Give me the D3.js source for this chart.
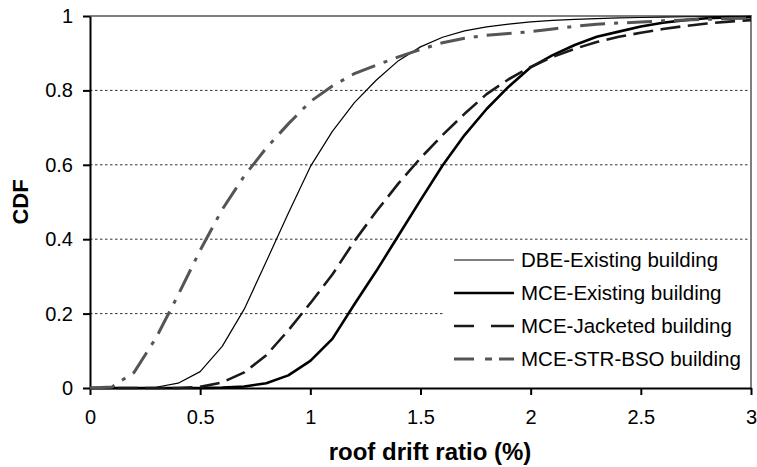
<!DOCTYPE html>
<html>
<head>
<meta charset="utf-8">
<script src="https://cdn.jsdelivr.net/npm/d3@7"></script>
<style>
    body { margin: 0; background: #fff; }
    svg { display: block; font-family: 'Liberation Sans', Arial, sans-serif; }
</style>
</head>
<body>
<div id="chart"></div>
<script>
// roof drift ratio (%) at which each CDF was sampled
const driftRatio = [0, 0.1, 0.2, 0.3, 0.4, 0.5, 0.6, 0.7, 0.8, 0.9, 1.0,
    1.1, 1.2, 1.3, 1.4, 1.5, 1.6, 1.7, 1.8, 1.9, 2.0,
    2.1, 2.2, 2.3, 2.4, 2.5, 2.6, 2.7, 2.8, 2.9, 3.0];

const dbeExisting = [0, 0, 0, 0.002, 0.013, 0.044, 0.112, 0.212, 0.34, 0.47, 0.595,
    0.69, 0.767, 0.828, 0.88, 0.917, 0.943, 0.96, 0.971, 0.978, 0.984,
    0.988, 0.991, 0.993, 0.995, 0.996, 0.997, 0.998, 0.998, 0.999, 0.999];

const mceExisting = [0, 0, 0, 0, 0, 0, 0.001, 0.004, 0.013, 0.034, 0.073,
    0.132, 0.225, 0.315, 0.41, 0.505, 0.598, 0.68, 0.75, 0.81, 0.862,
    0.895, 0.922, 0.944, 0.958, 0.972, 0.982, 0.989, 0.994, 0.996, 0.997];

const mceJacketed = [0, 0, 0, 0, 0, 0.003, 0.015, 0.042, 0.088, 0.155, 0.228,
    0.305, 0.395, 0.475, 0.55, 0.618, 0.68, 0.737, 0.79, 0.83, 0.863,
    0.89, 0.912, 0.93, 0.944, 0.955, 0.965, 0.973, 0.98, 0.985, 0.989];

const mceStrBso = [0, 0.003, 0.042, 0.135, 0.25, 0.37, 0.48, 0.57, 0.645, 0.71, 0.77,
    0.812, 0.845, 0.868, 0.89, 0.91, 0.928, 0.94, 0.948, 0.953, 0.958,
    0.965, 0.972, 0.978, 0.981, 0.984, 0.987, 0.989, 0.991, 0.993, 0.994];

const seriesNames = ['DBE-Existing building', 'MCE-Existing building', 'MCE-Jacketed building', 'MCE-STR-BSO building'];
const xTicks = [0, 0.5, 1, 1.5, 2, 2.5, 3];
const yTicks = [0, 0.2, 0.4, 0.6, 0.8, 1];

// line styles, same order as seriesNames
const styles = [
    { color: '#000', width: 1.2, dash: null, legendDash: null },
    { color: '#000', width: 2.6, dash: null, legendDash: null },
    { color: '#1a1a1a', width: 2.6, dash: '20,7.5', legendDash: '20,17,23' },
    { color: '#555', width: 3, dash: '25,9,4,9', legendDash: '20,11,7,7,15' }
];

function renderChart (el) {
    const width = 757;
    const height = 467;
    const margins = { top: 16, right: 6, bottom: 79, left: 90 };
    const innerW = width - margins.left - margins.right;
    const innerH = height - margins.top - margins.bottom;

    const svg = d3.select(el).append('svg')
        .attr('width', width)
        .attr('height', height);

    const x = d3.scaleLinear().domain([0, 3]).range([0, innerW]);
    const y = d3.scaleLinear().domain([0, 1]).range([innerH, 0]);

    const g = svg.append('g')
        .attr('transform', `translate(${margins.left},${margins.top})`);

    // dotted gridlines
    g.selectAll('line.grid')
        .data(yTicks.filter(d => d > 0 && d < 1))
        .enter()
        .append('line')
        .attr('class', 'grid')
        .attr('x1', 0)
        .attr('x2', innerW)
        .attr('y1', d => y(d))
        .attr('y2', d => y(d))
        .attr('stroke', '#333')
        .attr('stroke-width', 1)
        .attr('stroke-dasharray', '2.5,2.5');

    // plot area border (top + right)
    g.append('path')
        .attr('d', `M0,${y(1)}H${x(3)}V${y(0)}`)
        .attr('fill', 'none')
        .attr('stroke', '#7f7f7f')
        .attr('stroke-width', 2);

    // axes
    const yAxis = g.append('g')
        .call(d3.axisLeft(y).tickValues(yTicks).tickFormat(d3.format('~g'))
            .tickSizeInner(7).tickSizeOuter(0).tickPadding(10));
    const xAxis = g.append('g')
        .attr('transform', `translate(0,${innerH})`)
        .call(d3.axisBottom(x).tickValues(xTicks).tickFormat(d3.format('~g'))
            .tickSizeInner(7).tickSizeOuter(0).tickPadding(15));
    [yAxis, xAxis].forEach(ax => {
        ax.select('.domain').attr('stroke', '#000').attr('stroke-width', 2);
        ax.selectAll('.tick line').attr('stroke', '#000').attr('stroke-width', 2);
        ax.selectAll('.tick text')
            .attr('fill', '#000')
            .style('font-size', '20px')
            .style('font-family', "'Liberation Sans', Arial, sans-serif");
    });

    // curves
    const allSeries = [dbeExisting, mceExisting, mceJacketed, mceStrBso];
    const line = d3.line()
        .x((d, i) => x(driftRatio[i]))
        .y(d => y(d));
    allSeries.forEach((values, i) => {
        g.append('path')
            .datum(values)
            .attr('d', line)
            .attr('fill', 'none')
            .attr('stroke', styles[i].color)
            .attr('stroke-width', styles[i].width)
            .attr('stroke-linejoin', 'round')
            .attr('stroke-dasharray', styles[i].dash);
    });

    // legend
    const legend = svg.append('g').attr('class', 'legend');
    legend.append('rect')
        .attr('x', 445)
        .attr('y', 243)
        .attr('width', 303)
        .attr('height', 135)
        .attr('fill', '#fff');
    const rows = legend.selectAll('g.item')
        .data(seriesNames)
        .enter()
        .append('g')
        .attr('class', 'item')
        .attr('transform', (d, i) => `translate(454,${260 + i * 33})`);
    rows.append('line')
        .attr('x1', 0)
        .attr('x2', 60)
        .attr('stroke', (d, i) => styles[i].color)
        .attr('stroke-width', (d, i) => styles[i].width)
        .attr('stroke-dasharray', (d, i) => styles[i].legendDash);
    rows.append('text')
        .attr('x', 67)
        .attr('dy', '0.35em')
        .style('font-size', '20.5px')
        .text(d => d);

    // axis titles
    svg.append('text')
        .attr('x', 430)
        .attr('y', 460)
        .attr('text-anchor', 'middle')
        .style('font-size', '24px')
        .style('font-weight', 'bold')
        .text('roof drift ratio (%)');
    svg.append('text')
        .attr('transform', 'translate(28,202) rotate(-90)')
        .attr('text-anchor', 'middle')
        .style('font-size', '22px')
        .style('font-weight', 'bold')
        .text('CDF');
}

renderChart(document.getElementById('chart'));
</script>
</body>
</html>
